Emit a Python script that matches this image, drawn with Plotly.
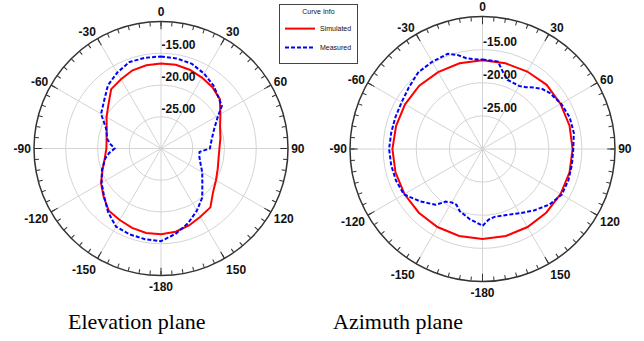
import plotly.graph_objects as go

# ---------------- data ----------------
elev_theta_sim = [0, 10, 20, 30, 40, 50, 60, 70, 80, 90, 100, 110, 120, 130, 140, 150, 160, 170, 180,
                  -170, -160, -150, -140, -130, -120, -110, -100, -90, -80, -70, -60, -50, -40, -30, -20, -10, 0]
elev_sim = [-16.6, -16.6, -16.8, -17.1, -17.4, -17.9, -19.2, -20.1, -20.5, -20.8, -20.8, -20.5, -20.0, -19.3,
            -17.9, -17.6, -17.1, -16.7, -16.5,
            -16.5, -16.7, -17.0, -17.2, -18.2, -19.1, -20.2, -21.0, -21.4, -21.3, -20.9, -20.1, -19.2, -17.8,
            -17.4, -16.9, -16.7, -16.6]

elev_theta_meas = [0, 10, 20, 30, 40, 50, 55, 60, 70, 80, 90, 95, 100, 110, 120, 130, 140, 150, 160, 170, 180,
                   -170, -160, -150, -140, -130, -120, -110, -100, -95, -90, -85, -80, -70, -60, -50, -40, -30,
                   -20, -10, 0]
elev_meas = [-15.5, -15.6, -15.8, -16.4, -17.1, -18.0, -18.3, -19.6, -21.1, -21.9, -22.3, -23.9, -23.9, -23.4,
             -22.5, -21.5, -19.9, -18.7, -17.5, -16.4, -15.4,
             -15.5, -15.6, -15.8, -17.0, -18.3, -19.2, -20.1, -21.1, -21.8, -22.7, -22.0, -21.4, -20.8,
             -19.1, -18.3, -17.0, -16.2, -15.5, -15.5, -15.5]

azim_theta_sim = [0, 15, 30, 45, 60, 75, 90, 105, 120, 135, 150, 165, 180,
                  -165, -150, -135, -120, -105, -90, -75, -60, -45, -30, -15, 0]
azim_sim = [-16.6, -16.6, -16.5, -16.3, -16.4, -16.4, -16.4, -16.4, -16.4, -16.4, -16.4, -16.4, -16.4,
            -16.4, -16.4, -16.4, -16.4, -16.4, -16.4, -16.5, -16.5, -16.5, -16.6, -16.6, -16.6]

azim_theta_meas = [0, 10, 15, 20, 25, 30, 35, 40, 45, 50, 60, 70, 80, 90, 100, 110, 120, 130, 140, 150,
                   160, 170, 175, 180, -175, -170, -160, -155, -150, -145, -140, -130, -120, -110, -100,
                   -90, -80, -70, -60, -50, -40, -30, -20, -15, -10, -5, 0]
azim_meas = [-16.5, -16.6, -18.0, -18.9, -19.0, -19.0, -18.6, -17.9, -17.2, -16.8, -16.3, -16.0, -16.0, -16.3,
             -16.3, -16.2, -16.2, -16.9, -17.9, -18.8, -19.4, -19.6, -19.3, -18.4, -18.9, -19.2, -20.0,
             -20.7, -20.7, -20.3, -19.0, -17.7, -16.3, -16.1, -16.0, -15.9, -16.0, -16.0, -15.9, -15.5,
             -14.9, -14.8, -14.7, -15.3, -16.1, -16.4, -16.5]

radial_ticks = [-25, -20, -15]
radial_labels = ["-25.00", "-20.00", "-15.00"]
angle_ticks = [0, 30, 60, 90, 120, 150, 180, 210, 240, 270, 300, 330]
angle_labels = ["0", "30", "60", "90", "120", "150", "-180", "-150", "-120", "-90", "-60", "-30"]
minor_ticks = list(range(0, 360, 5))

titles = ["Elevation plane", "Azimuth plane"]

# ---------------- styling ----------------
W, H = 644, 341
FONT = "Liberation Sans, Arial, sans-serif"
RED = "#ff0000"
BLUE = "#0000ff"
GRID = "#d4d4d4"
NB = "\u00a0"


def px(x):
    return x / W


def py(y):
    return (H - y) / H


def dom(cx, cy, r):
    return dict(x=[px(cx - r), px(cx + r)], y=[py(cy + r), py(cy - r)])


doms = [dom(161, 148.5, 127), dom(482.5, 149, 132.5)]

# radial labels placed right of the spoke, just above the ring
radial_text = [t + "<br>" + NB for t in radial_labels]

fig = go.Figure()

series = [
    (elev_theta_sim, elev_sim, elev_theta_meas, elev_meas, "polar"),
    (azim_theta_sim, azim_sim, azim_theta_meas, azim_meas, "polar2"),
]
for i, (ts, vs, tm, vm, sp) in enumerate(series):
    fig.add_trace(go.Scatterpolar(r=vs, theta=ts, mode="lines", name="Simulated",
                                  line=dict(color=RED, width=2), subplot=sp, showlegend=(i == 0)))
    fig.add_trace(go.Scatterpolar(r=vm, theta=tm, mode="lines", name="Measured",
                                  line=dict(color=BLUE, width=2, dash="4px,2px"), subplot=sp,
                                  showlegend=(i == 0)))

# invisible traces to instantiate the overlay polars (minor ticks)
for sp in ["polar3", "polar4"]:
    fig.add_trace(go.Scatterpolar(r=[-30], theta=[0], mode="markers", marker=dict(opacity=0),
                                  subplot=sp, showlegend=False, hoverinfo="skip"))


def main_polar(d):
    return dict(
        domain=d,
        bgcolor="white",
        angularaxis=dict(rotation=90, direction="clockwise", tickmode="array",
                         tickvals=angle_ticks, ticktext=angle_labels, ticks="inside", ticklen=7,
                         tickcolor="#333333", tickwidth=1, showline=True, linecolor="#333333",
                         linewidth=1.5, showgrid=True, gridcolor=GRID, gridwidth=1,
                         tickfont=dict(family=FONT, size=12, color="#111111", weight="bold")),
        radialaxis=dict(range=[-30, -10], tickmode="array", tickvals=radial_ticks,
                        ticktext=radial_text, showline=False, ticks="", showgrid=True,
                        gridcolor=GRID, gridwidth=1, angle=90, tickangle=90,
                        tickfont=dict(family=FONT, size=12, color="#111111", weight="bold")),
    )


def overlay_polar(d):
    return dict(
        domain=d,
        bgcolor="rgba(0,0,0,0)",
        angularaxis=dict(rotation=90, direction="clockwise", tickmode="array",
                         tickvals=minor_ticks, ticktext=[""] * len(minor_ticks), ticks="inside",
                         ticklen=4, tickcolor="#333333", tickwidth=1, showline=False, showgrid=False,
                         showticklabels=False),
        radialaxis=dict(range=[-30, -10], visible=False),
    )


fig.update_layout(
    width=W, height=H,
    margin=dict(l=0, r=0, t=0, b=0),
    paper_bgcolor="white",
    polar=main_polar(doms[0]),
    polar2=main_polar(doms[1]),
    polar3=overlay_polar(doms[0]),
    polar4=overlay_polar(doms[1]),
    showlegend=True,
    legend=dict(x=px(279), y=py(4), xanchor="left", yanchor="top",
                bordercolor="#444444", borderwidth=1, bgcolor="white",
                font=dict(family=FONT, size=7, color="#111111"),
                title=dict(text="Curve Info", side="top center", font=dict(family=FONT, size=7)),
                itemwidth=30, tracegroupgap=0),
)

for txt, cx in zip(titles, [136, 398]):
    fig.add_annotation(text=txt, x=px(cx), y=py(321), xref="paper", yref="paper",
                       xanchor="center", yanchor="middle", showarrow=False,
                       font=dict(family="Liberation Serif, Times New Roman, serif", size=22, color="black"))

fig.write_html("out.html", config={"displayModeBar": False},
               post_script="document.body.style.margin='0';")
